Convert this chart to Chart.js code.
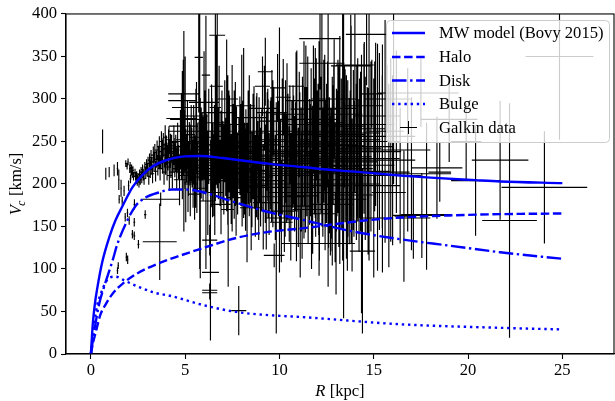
<!DOCTYPE html>
<html>
<head>
<meta charset="utf-8">
<script src="https://cdn.jsdelivr.net/npm/chart.js@4/dist/chart.umd.min.js"></script>
<style>
  html, body { margin: 0; padding: 0; background: #ffffff; }
  #wrap { width: 615px; height: 401px; }
</style>
</head>
<body>
<div id="wrap"><canvas id="c" width="615" height="401"></canvas></div>
<script>
// ---------------- DATA ----------------
const xTicks = [0, 5, 10, 15, 20, 25];
const yTicks = [0, 50, 100, 150, 200, 250, 300, 350, 400];

// MW model (Bovy 2015) curves
const totalR = [0, 0.1, 0.2, 0.35, 0.6, 1.0, 1.3, 1.7, 2.2, 2.75, 3.3, 4.0, 4.5, 5.0, 5.8, 7.0, 7.7, 9.5, 11.2, 13.0, 14.0, 16.4, 18.0, 20.4, 21.7, 25.0];
const totalV = [0, 35, 57, 79, 108, 139, 157, 175, 196, 211, 221, 228, 231, 232.5, 233, 230.5, 228.5, 223.7, 220, 216, 214.5, 210, 207.5, 204.5, 203, 201];

const haloR = [0, 0.1, 0.25, 0.5, 0.8, 1.15, 1.7, 2.4, 3.1, 4.0, 4.5, 6.0, 7.7, 9.5, 11.1, 13.0, 14.5, 16.4, 19.0, 21.7, 25.0];
const haloV = [0, 12, 25, 46, 59, 71, 83, 94, 102, 110, 114, 125, 136.5, 144, 147.5, 153, 157, 160.5, 163, 164.5, 165.3];

const diskR = [0, 0.2, 0.44, 0.7, 1.15, 1.4, 1.95, 2.4, 2.9, 3.6, 4.3, 5.0, 6.0, 7.7, 9.5, 11.1, 13.7, 16.4, 19.0, 21.7, 25.0];
const diskV = [0, 30, 59, 79, 110, 129, 158, 175, 184, 190, 193.5, 193.5, 190, 178, 166.5, 158.5, 145, 135, 127.5, 119.7, 112];

const bulgeR = [0, 0.18, 0.35, 0.53, 0.75, 1.0, 1.3, 1.77, 2.56, 3.44, 4.2, 6.0, 7.7, 9.5, 11.1, 16.4, 21.7, 25.0];
const bulgeV = [0, 36, 59, 71, 83, 90, 91, 86.5, 78.7, 71.7, 68.5, 57.3, 49.5, 45.6, 43.6, 35, 30.8, 28.9];

// Galkin data (R, Vc, errors)
const galR = [
  0.62, 0.79, 0.97, 1.23, 1.41, 1.41, 1.45, 1.50, 1.48, 1.66,
  1.76, 1.82, 1.85, 1.88, 1.92, 1.94, 1.97, 2.00, 2.03, 2.06,
  2.08, 2.10, 2.13, 2.16, 2.19, 2.20, 2.23, 2.26, 2.30, 2.30,
  2.31, 2.34, 2.37, 2.40, 2.43, 2.46, 2.50, 2.52, 2.55, 2.58,
  2.62, 2.66, 2.70, 2.74, 2.78, 2.82, 2.86, 2.88, 2.91, 2.95,
  1.95, 1.60, 2.99, 3.03, 3.07, 3.11, 3.15, 3.19, 3.23, 3.27,
  3.31, 3.35, 3.39, 3.43, 3.47, 3.51, 3.55, 3.59, 3.63, 3.67,
  3.65, 3.70, 3.72, 3.76, 3.80, 3.84, 3.88, 3.92, 3.96, 4.00,
  4.04, 4.08, 4.12, 4.16, 4.20, 4.24, 4.28, 4.32, 4.36, 4.40,
  4.90, 4.85, 4.80, 4.90, 4.95, 5.00, 4.85, 5.00, 4.93, 4.45,
  4.50, 4.55, 4.60, 4.65, 4.70, 4.75, 4.80, 4.85, 4.90, 4.95,
  5.00, 5.03, 5.08, 5.12, 5.17, 5.22, 5.27, 5.32, 5.37, 5.42,
  5.47, 5.52, 5.57, 5.62, 5.67, 5.72, 5.77, 5.80, 5.85, 5.90,
  5.95, 6.00, 6.05, 6.10, 6.10, 6.15, 6.20, 6.25, 6.30, 6.34,
  6.30, 6.30, 6.38, 6.42, 6.47, 6.52, 6.57, 6.60, 6.65, 6.70,
  6.72, 6.76, 6.80, 6.85, 6.90, 6.95, 7.00, 7.05, 7.10, 7.15,
  7.20, 7.26, 7.28, 7.32, 7.38, 7.44, 7.49, 7.55, 7.60, 7.66,
  7.72, 7.78, 7.84, 7.90, 7.96, 8.02, 8.08, 8.10, 8.15, 8.22,
  8.28, 8.34, 8.40, 8.47, 8.54, 8.60, 8.66, 8.72, 8.78, 8.85,
  8.92, 9.00, 9.06, 9.10, 9.14, 9.20, 9.25, 9.30, 9.38, 9.45,
  9.52, 9.58, 9.65, 9.70, 9.72, 9.78, 9.83, 9.90, 9.95, 10.00,
  10.05, 10.10, 10.15, 10.20, 10.26, 10.32, 10.38, 10.45, 10.52, 10.60,
  10.66, 10.72, 10.80, 10.88, 10.92, 11.00, 11.08, 11.15, 11.22, 11.30,
  11.38, 11.45, 11.52, 11.60, 11.68, 11.76, 11.85, 11.92, 12.00, 12.08,
  12.10, 12.12, 12.15, 12.20, 12.25, 12.30, 12.35, 12.42, 12.50, 12.58,
  12.65, 12.72, 12.80, 12.88, 12.95, 13.02, 13.10, 13.15, 13.20, 13.28,
  13.35, 13.40, 13.48, 13.55, 13.62, 13.70, 13.78, 13.80, 13.85, 13.92,
  14.00, 14.08, 14.15, 14.22, 14.30, 14.35, 14.40, 14.48, 14.55, 14.62,
  14.70, 14.75, 14.85, 14.90, 15.00, 15.10, 15.20, 15.30, 15.46, 15.60,
  15.70, 15.80, 15.90, 16.00, 16.05, 16.20, 16.40, 16.60, 16.80, 17.00,
  17.10, 17.55, 17.80, 17.80, 18.35, 18.50, 19.00, 19.90, 20.40, 21.70,
  22.20, 24.05, 24.85, 16.20, 17.50, 15.00, 13.00, 12.60, 11.90, 11.10,
  5.05, 5.35, 5.65, 5.95, 6.25, 6.55, 6.85, 7.15, 7.45, 7.75,
  5.15, 5.45, 5.75, 6.05, 6.35, 6.65, 6.95, 7.25, 7.55, 7.85,
  8.05, 8.35, 8.65, 8.95, 9.25, 9.55, 9.85, 10.15, 10.45, 10.75,
  11.05, 11.35, 11.65, 11.95, 12.25, 12.55, 12.85, 13.15, 13.45, 13.75,
  5.60, 6.00, 6.40, 6.80, 7.20, 7.60, 8.00, 8.40, 8.80, 9.60,
  10.40, 10.90, 11.40, 11.80, 12.40, 12.90, 13.40, 14.00, 14.50, 15.20,
  5.50, 6.20, 6.90, 7.70, 8.50, 9.30, 10.10, 10.90, 11.70, 12.80,
  3.62, 3.82, 4.02, 4.22, 4.42, 4.62, 4.82, 3.74, 3.94, 4.14,
  9.05, 9.35, 9.65, 9.95, 10.25, 10.55, 10.85, 11.15, 11.45, 11.75,
  12.05, 12.45, 12.75, 13.05, 13.55, 13.95, 14.25, 14.65, 15.05, 15.45,
  5.25, 5.55, 5.85, 6.15, 6.45, 6.75, 7.05, 7.35, 7.65, 7.95,
  8.20, 8.90, 9.40, 10.30, 11.20, 11.50, 12.70, 13.60, 14.10, 15.80
];
const galV = [
  250, 212, 214, 216, 218, 98, 104, 182, 205, 180,
  192, 161, 224, 114, 221, 166, 226, 198, 157, 218,
  222, 206, 215, 219, 212, 141, 216, 209, 155, 139,
  176, 213, 209, 206, 210, 204, 208, 129, 202, 211,
  205, 214, 208, 217, 211, 206, 220, 164, 213, 223,
  111, 195, 216, 224, 209, 228, 217, 231, 221, 212,
  234, 226, 237, 215, 229, 240, 222, 233, 244, 218,
  132, 182, 230, 238, 225, 246, 214, 234, 226, 241,
  220, 231, 247, 210, 236, 225, 242, 214, 232, 249,
  306, 298, 277, 268, 262, 290, 250, 276, 262, 228,
  236, 218, 244, 226, 205, 252, 231, 214, 240, 222,
  245, 210, 230, 258, 218, 238, 200, 248, 226, 212,
  240, 222, 262, 208, 234, 349, 250, 195, 228, 244,
  215, 236, 255, 328, 205, 240, 225, 262, 134, 96,
  75, 72, 218, 246, 232, 210, 190, 290, 315, 375,
  240, 222, 256, 214, 236, 248, 226, 208, 262, 232,
  218, 240, 170, 250, 226, 205, 242, 232, 214, 258,
  236, 212, 51, 245, 224, 202, 238, 260, 218, 232,
  190, 250, 214, 236, 205, 244, 225, 198, 232, 216,
  240, 208, 228, 315, 185, 289, 332, 222, 246, 200,
  234, 215, 252, 274, 116, 196, 160, 313, 228, 240,
  210, 155, 232, 302, 190, 250, 218, 236, 200, 185,
  228, 244, 212, 315, 262, 196, 234, 220, 250, 252,
  215, 238, 200, 226, 258, 190, 244, 212, 232, 165,
  230, 130, 371, 246, 342, 214, 262, 200, 236, 250,
  222, 205, 240, 289, 190, 228, 256, 212, 240, 236,
  260, 221, 245, 200, 230, 215, 339, 258, 187, 240,
  340, 226, 252, 210, 238, 200, 121, 265, 230, 376,
  215, 260, 244, 306, 222, 270, 198, 250, 230, 262,
  300, 214, 240, 228, 300, 256, 210, 162, 240, 212,
  160, 163, 164, 212, 219, 214, 276, 250, 204, 228,
  157, 196, 350, 307, 307, 160, 130, 165, 260, 130,
  228, 236, 219, 247, 230, 258, 204, 243, 226, 212,
  202, 255, 240, 222, 212, 237, 268, 222, 250, 236,
  248, 224, 260, 230, 212, 246, 224, 262, 215, 240,
  270, 244, 228, 276, 218, 270, 246, 262, 268, 232,
  280, 296, 272, 284, 300, 270, 292, 278, 262, 284,
  282, 276, 298, 288, 272, 300, 282, 270, 292, 280,
  188, 180, 176, 184, 172, 178, 168, 174, 170, 176,
  228, 242, 236, 245, 238, 232, 226, 250, 255, 252,
  226, 250, 204, 238, 222, 258, 232, 210, 246, 224,
  248, 226, 212, 236, 250, 218, 242, 228, 256, 238,
  234, 212, 248, 228, 205, 244, 230, 256, 220, 244,
  205, 196, 230, 210, 186, 270, 198, 182, 250, 190
];
const galRerr = [
  0.03, 0.03, 0.03, 0.03, 0.04, 0.04, 0.04, 0.04, 0.04, 0.04,
  0.04, 0.04, 0.04, 0.04, 0.04, 0.04, 0.04, 0.04, 0.04, 0.04,
  0.05, 0.05, 0.05, 0.05, 0.05, 0.05, 0.05, 0.05, 0.05, 0.05,
  0.05, 0.05, 0.05, 0.05, 0.05, 0.05, 0.05, 0.05, 0.05, 0.05,
  0.06, 0.06, 0.06, 0.06, 0.06, 0.06, 0.06, 0.06, 0.06, 0.06,
  0.04, 0.04, 0.07, 0.08, 0.08, 0.08, 0.08, 0.08, 0.09, 0.09,
  0.09, 0.09, 0.09, 0.10, 0.10, 0.10, 0.10, 0.10, 0.10, 0.11,
  0.90, 1.00, 0.11, 0.11, 0.12, 0.12, 0.12, 0.12, 0.12, 0.13,
  0.13, 0.13, 0.14, 0.14, 0.14, 0.15, 0.15, 0.15, 0.16, 0.16,
  0.80, 0.75, 0.80, 0.75, 0.80, 0.70, 0.60, 0.80, 0.20, 0.16,
  0.18, 0.20, 0.25, 0.18, 0.30, 0.22, 0.25, 0.35, 0.20, 0.28,
  0.25, 0.30, 0.22, 0.40, 0.25, 0.30, 0.35, 0.28, 0.30, 0.40,
  0.30, 0.45, 0.30, 0.35, 0.50, 0.22, 0.30, 0.40, 0.35, 0.30,
  0.40, 0.30, 0.45, 0.22, 0.35, 0.40, 0.30, 0.35, 0.40, 0.45,
  0.40, 0.40, 0.35, 0.40, 0.30, 0.45, 0.40, 0.30, 0.35, 0.42,
  0.30, 0.45, 0.40, 0.35, 0.50, 0.30, 0.40, 0.45, 0.35, 0.40,
  0.45, 0.40, 0.35, 0.50, 0.40, 0.45, 0.40, 0.50, 0.45, 0.40,
  0.45, 0.50, 0.40, 0.45, 0.55, 0.50, 0.45, 0.40, 0.55, 0.50,
  0.50, 0.55, 0.60, 0.50, 0.65, 0.55, 0.60, 0.70, 0.55, 0.60,
  0.60, 0.65, 0.55, 0.40, 0.70, 0.80, 0.40, 0.65, 0.60, 0.70,
  0.65, 0.70, 0.60, 0.80, 0.55, 0.75, 0.60, 0.40, 0.70, 0.65,
  0.75, 0.60, 0.70, 0.40, 0.80, 0.70, 0.85, 0.75, 0.80, 0.70,
  0.85, 0.70, 0.90, 0.40, 0.80, 0.85, 0.90, 0.80, 0.85, 0.30,
  0.90, 0.85, 1.00, 0.90, 0.85, 1.00, 0.90, 0.95, 1.10, 0.45,
  1.00, 1.05, 1.10, 0.95, 1.20, 1.00, 0.90, 1.10, 1.00, 0.95,
  1.00, 1.10, 1.00, 1.20, 1.10, 1.05, 1.00, 1.15, 0.90, 1.10,
  1.10, 0.95, 1.00, 1.15, 1.05, 1.20, 1.05, 0.70, 1.10, 1.00,
  1.00, 1.10, 1.20, 1.05, 1.15, 1.00, 0.67, 1.10, 1.20, 1.10,
  1.15, 0.60, 1.20, 0.60, 1.10, 1.00, 1.20, 1.10, 0.90, 1.00,
  1.20, 1.10, 1.00, 1.20, 0.90, 1.00, 1.10, 0.50, 1.20, 0.90,
  0.90, 1.55, 1.35, 1.30, 1.35, 0.60, 1.50, 0.80, 1.30, 1.50,
  1.45, 2.27, 1.80, 1.00, 2.00, 0.60, 1.00, 0.45, 1.00, 1.00,
  0.15, 0.20, 0.18, 0.22, 0.25, 0.20, 0.28, 0.30, 0.25, 0.30,
  0.20, 0.25, 0.22, 0.30, 0.25, 0.28, 0.30, 0.35, 0.30, 0.35,
  0.40, 0.45, 0.50, 0.55, 0.60, 0.55, 0.65, 0.60, 0.70, 0.65,
  0.90, 1.00, 0.85, 1.10, 1.00, 1.05, 1.20, 1.10, 1.00, 1.15,
  0.60, 0.80, 0.70, 0.90, 0.60, 0.80, 0.70, 0.90, 1.00, 0.80,
  0.90, 1.00, 1.10, 1.20, 1.00, 1.20, 1.00, 1.10, 1.00, 1.20,
  0.35, 0.40, 0.50, 0.45, 0.60, 0.70, 0.75, 0.90, 1.00, 1.10,
  0.10, 0.12, 0.13, 0.14, 0.16, 0.18, 0.20, 0.12, 0.12, 0.14,
  0.55, 0.60, 0.65, 0.70, 0.75, 0.70, 0.80, 0.85, 0.90, 0.95,
  1.00, 1.10, 0.95, 1.05, 1.10, 1.00, 1.15, 1.05, 1.10, 1.00,
  0.20, 0.25, 0.30, 0.28, 0.32, 0.35, 0.40, 0.38, 0.42, 0.45,
  0.50, 0.60, 0.70, 0.80, 0.90, 1.00, 1.10, 1.00, 1.20, 0.90
];
const galVerr = [
  14, 7, 6, 7, 8, 4, 4, 5, 12, 5,
  6, 5, 4, 5, 4, 5, 4, 6, 5, 5,
  4, 5, 5, 4, 5, 5, 5, 5, 5, 5,
  6, 5, 5, 6, 5, 6, 5, 5, 6, 6,
  6, 6, 7, 6, 7, 7, 6, 5, 7, 6,
  5, 10, 7, 8, 10, 8, 10, 9, 10, 11,
  10, 12, 10, 12, 10, 11, 12, 12, 12, 14,
  45, 8, 12, 14, 13, 14, 15, 14, 15, 16,
  16, 15, 17, 18, 17, 18, 16, 19, 18, 20,
  40, 35, 30, 28, 25, 60, 22, 30, 118, 20,
  22, 25, 28, 20, 30, 35, 26, 32, 30, 28,
  30, 55, 28, 40, 32, 35, 38, 45, 30, 40,
  40, 35, 50, 42, 38, 65, 150, 106, 45, 40,
  35, 30, 55, 70, 105, 42, 38, 50, 18, 80,
  8, 8, 45, 55, 40, 48, 50, 110, 60, 180,
  45, 40, 55, 38, 50, 42, 48, 44, 60, 46,
  50, 88, 91, 60, 45, 52, 98, 48, 55, 62,
  55, 48, 29, 58, 50, 52, 60, 100, 54, 56,
  82, 60, 52, 58, 56, 62, 54, 60, 71, 58,
  62, 58, 60, 35, 62, 50, 40, 64, 66, 60,
  64, 60, 70, 40, 14, 62, 136, 40, 66, 144,
  66, 10, 68, 45, 70, 72, 64, 70, 68, 75,
  70, 72, 68, 40, 95, 70, 74, 70, 76, 116,
  72, 76, 70, 74, 78, 72, 80, 74, 78, 25,
  138, 20, 60, 80, 70, 76, 84, 78, 82, 171,
  80, 84, 86, 50, 82, 84, 90, 86, 134, 88,
  150, 179, 90, 88, 92, 86, 60, 128, 90, 94,
  70, 92, 96, 90, 94, 152, 97, 100, 96, 60,
  98, 150, 100, 40, 102, 96, 100, 104, 134, 131,
  40, 104, 108, 100, 100, 90, 80, 77, 96, 90,
  48, 50, 65, 60, 60, 35, 50, 45, 65, 70,
  138, 66, 98, 50, 40, 70, 60, 40, 100, 40,
  25, 30, 28, 32, 30, 35, 30, 34, 32, 36,
  35, 38, 36, 34, 40, 38, 42, 40, 44, 42,
  50, 48, 55, 52, 58, 56, 60, 62, 58, 64,
  62, 70, 66, 72, 68, 74, 70, 76, 72, 78,
  40, 60, 45, 55, 70, 40, 60, 50, 45, 50,
  60, 70, 65, 75, 80, 70, 90, 80, 75, 85,
  30, 40, 35, 45, 50, 55, 60, 65, 70, 72,
  10, 12, 14, 14, 16, 18, 20, 12, 14, 16,
  52, 58, 55, 60, 62, 58, 64, 66, 62, 68,
  70, 72, 76, 74, 78, 80, 82, 86, 88, 90,
  36, 40, 42, 38, 44, 46, 40, 48, 46, 50,
  60, 62, 70, 72, 74, 80, 82, 84, 90, 88
];

// ---------------- STYLE ----------------
const FONT = '"Liberation Serif", "Times New Roman", serif';
const FS = 16.6;
const BLUE = '#0000ff';

function xy(xs, ys) { return xs.map((v, i) => ({ x: v, y: ys[i] })); }

// Error bars drawn through the chart's scales
const errorBarPlugin = {
  id: 'errorBars',
  beforeDatasetsDraw(chart) {
    const { ctx, chartArea: a } = chart;
    const xs = chart.scales.x, ys = chart.scales.y;
    ctx.save();
    ctx.beginPath();
    ctx.rect(a.left, a.top, a.right - a.left, a.bottom - a.top);
    ctx.clip();
    ctx.strokeStyle = '#000000';
    ctx.lineWidth = 1.15;
    ctx.beginPath();
    for (let i = 0; i < galR.length; i++) {
      const px = xs.getPixelForValue(galR[i]);
      const py = ys.getPixelForValue(galV[i]);
      const x0 = xs.getPixelForValue(galR[i] - galRerr[i]);
      const x1 = xs.getPixelForValue(galR[i] + galRerr[i]);
      const y0 = ys.getPixelForValue(galV[i] - galVerr[i]);
      const y1 = ys.getPixelForValue(galV[i] + galVerr[i]);
      ctx.moveTo(x0, py); ctx.lineTo(x1, py);
      ctx.moveTo(px, y0); ctx.lineTo(px, y1);
    }
    ctx.stroke();
    ctx.restore();
  }
};

// Frame, axis titles and legend
const decorPlugin = {
  id: 'decor',
  afterDatasetsDraw(chart) {
    const { ctx, chartArea: a } = chart;
    ctx.save();
    ctx.strokeStyle = '#000';
    ctx.lineWidth = 1.1;
    ctx.strokeRect(a.left, a.top, a.right - a.left, a.bottom - a.top);
    ctx.restore();
  },
  afterDraw(chart) {
    const { ctx, chartArea: a } = chart;
    ctx.save();
    ctx.fillStyle = '#000';
    ctx.textBaseline = 'alphabetic';
    // X title: R [kpc]
    const fI = 'italic ' + FS + 'px ' + FONT, fR = FS + 'px ' + FONT, fS = 'italic ' + (FS * 0.7).toFixed(1) + 'px ' + FONT;
    ctx.font = fI; const wR = ctx.measureText('R').width;
    ctx.font = fR; const wK = ctx.measureText(' [kpc]').width;
    let cx = (a.left + a.right) / 2 - (wR + wK) / 2;
    const by = 396;
    ctx.font = fI; ctx.fillText('R', cx, by);
    ctx.font = fR; ctx.fillText(' [kpc]', cx + wR, by);
    // Y title: V_c [km/s]
    ctx.font = fI; const wV = ctx.measureText('V').width;
    ctx.font = fS; const wc = ctx.measureText('c').width;
    ctx.font = fR; const wU = ctx.measureText(' [km/s]').width;
    const tot = wV + wc + wU;
    ctx.save();
    ctx.translate(21, (a.top + a.bottom) / 2);
    ctx.rotate(-Math.PI / 2);
    let sx = -tot / 2;
    ctx.font = fI; ctx.fillText('V', sx, 0); sx += wV;
    ctx.font = fS; ctx.fillText('c', sx - 0.5, 3.5); sx += wc;
    ctx.font = fR; ctx.fillText(' [km/s]', sx, 0);
    ctx.restore();

    // Legend
    const bx = 386.5, byy = 20.5, bw = 223, bh = 122, r = 4;
    ctx.beginPath();
    ctx.moveTo(bx + r, byy);
    ctx.lineTo(bx + bw - r, byy);
    ctx.arcTo(bx + bw, byy, bx + bw, byy + r, r);
    ctx.lineTo(bx + bw, byy + bh - r);
    ctx.arcTo(bx + bw, byy + bh, bx + bw - r, byy + bh, r);
    ctx.lineTo(bx + r, byy + bh);
    ctx.arcTo(bx, byy + bh, bx, byy + bh - r, r);
    ctx.lineTo(bx, byy + r);
    ctx.arcTo(bx, byy, bx + r, byy, r);
    ctx.closePath();
    ctx.fillStyle = 'rgba(255,255,255,0.8)';
    ctx.fill();
    ctx.strokeStyle = '#cccccc';
    ctx.lineWidth = 1;
    ctx.stroke();

    const rows = [33, 57, 80.5, 104, 127.5];
    const dsets = chart.data.datasets;
    ctx.font = fR;
    ctx.textBaseline = 'middle';
    dsets.forEach((ds, i) => {
      const y = rows[i];
      if (ds.showLine) {
        ctx.save();
        ctx.strokeStyle = ds.borderColor;
        ctx.lineWidth = ds.borderWidth;
        ctx.setLineDash(ds.borderDash || []);
        ctx.beginPath();
        ctx.moveTo(392, y); ctx.lineTo(425, y);
        ctx.stroke();
        ctx.restore();
      } else {
        ctx.save();
        ctx.strokeStyle = '#000';
        ctx.lineWidth = 1;
        ctx.beginPath();
        ctx.moveTo(400, y); ctx.lineTo(417, y);
        ctx.moveTo(408.5, y - 6.5); ctx.lineTo(408.5, y + 6.5);
        ctx.stroke();
        ctx.restore();
      }
      ctx.fillStyle = '#000';
      ctx.fillText(ds.label, 439, y + 1);
    });
    ctx.restore();
  }
};

const lineDs = (label, xs, ys, dash) => ({
  label, data: xy(xs, ys), showLine: true, pointRadius: 0, pointHoverRadius: 0,
  borderColor: BLUE, backgroundColor: BLUE, borderWidth: 2.4, borderDash: dash,
  fill: false, cubicInterpolationMode: 'monotone', tension: 0.4
});

new Chart(document.getElementById('c'), {
  type: 'scatter',
  data: {
    datasets: [
      lineDs('MW model (Bovy 2015)', totalR, totalV, []),
      lineDs('Halo', haloR, haloV, [8.5, 3.6]),
      lineDs('Disk', diskR, diskV, [14.5, 3.6, 2.4, 3.6]),
      lineDs('Bulge', bulgeR, bulgeV, [2.4, 3.8]),
      { label: 'Galkin data', data: xy(galR, galV), showLine: false, pointRadius: 0, pointHoverRadius: 0,
        borderColor: '#000', backgroundColor: '#000' }
    ]
  },
  options: {
    responsive: false,
    devicePixelRatio: 1,
    animation: false,
    layout: { padding: { left: 0, right: 1, top: 12, bottom: 0 } },
    plugins: { legend: { display: false }, tooltip: { enabled: false } },
    scales: {
      x: {
        type: 'linear', min: -1.32, max: 27.74,
        afterBuildTicks: s => { s.ticks = xTicks.map(v => ({ value: v })); },
        afterFit: s => { s.height = 47; },
        grid: { display: true, drawOnChartArea: false, drawTicks: true, tickLength: 5, color: '#000', tickWidth: 1.1 },
        border: { display: true, color: '#000', width: 1.1 },
        ticks: { color: '#000', font: { family: FONT, size: FS }, padding: 2, maxRotation: 0, autoSkip: false,
                 callback: v => String(v) }
      },
      y: {
        type: 'linear', min: 0, max: 400,
        afterBuildTicks: s => { s.ticks = yTicks.map(v => ({ value: v })); },
        afterFit: s => { s.width = 66; },
        grid: { display: true, drawOnChartArea: false, drawTicks: true, tickLength: 5, color: '#000', tickWidth: 1.1 },
        border: { display: true, color: '#000', width: 1.1 },
        ticks: { color: '#000', font: { family: FONT, size: FS }, padding: 4, autoSkip: false,
                 callback: v => String(v) }
      }
    }
  },
  plugins: [errorBarPlugin, decorPlugin]
});
</script>
</body>
</html>
